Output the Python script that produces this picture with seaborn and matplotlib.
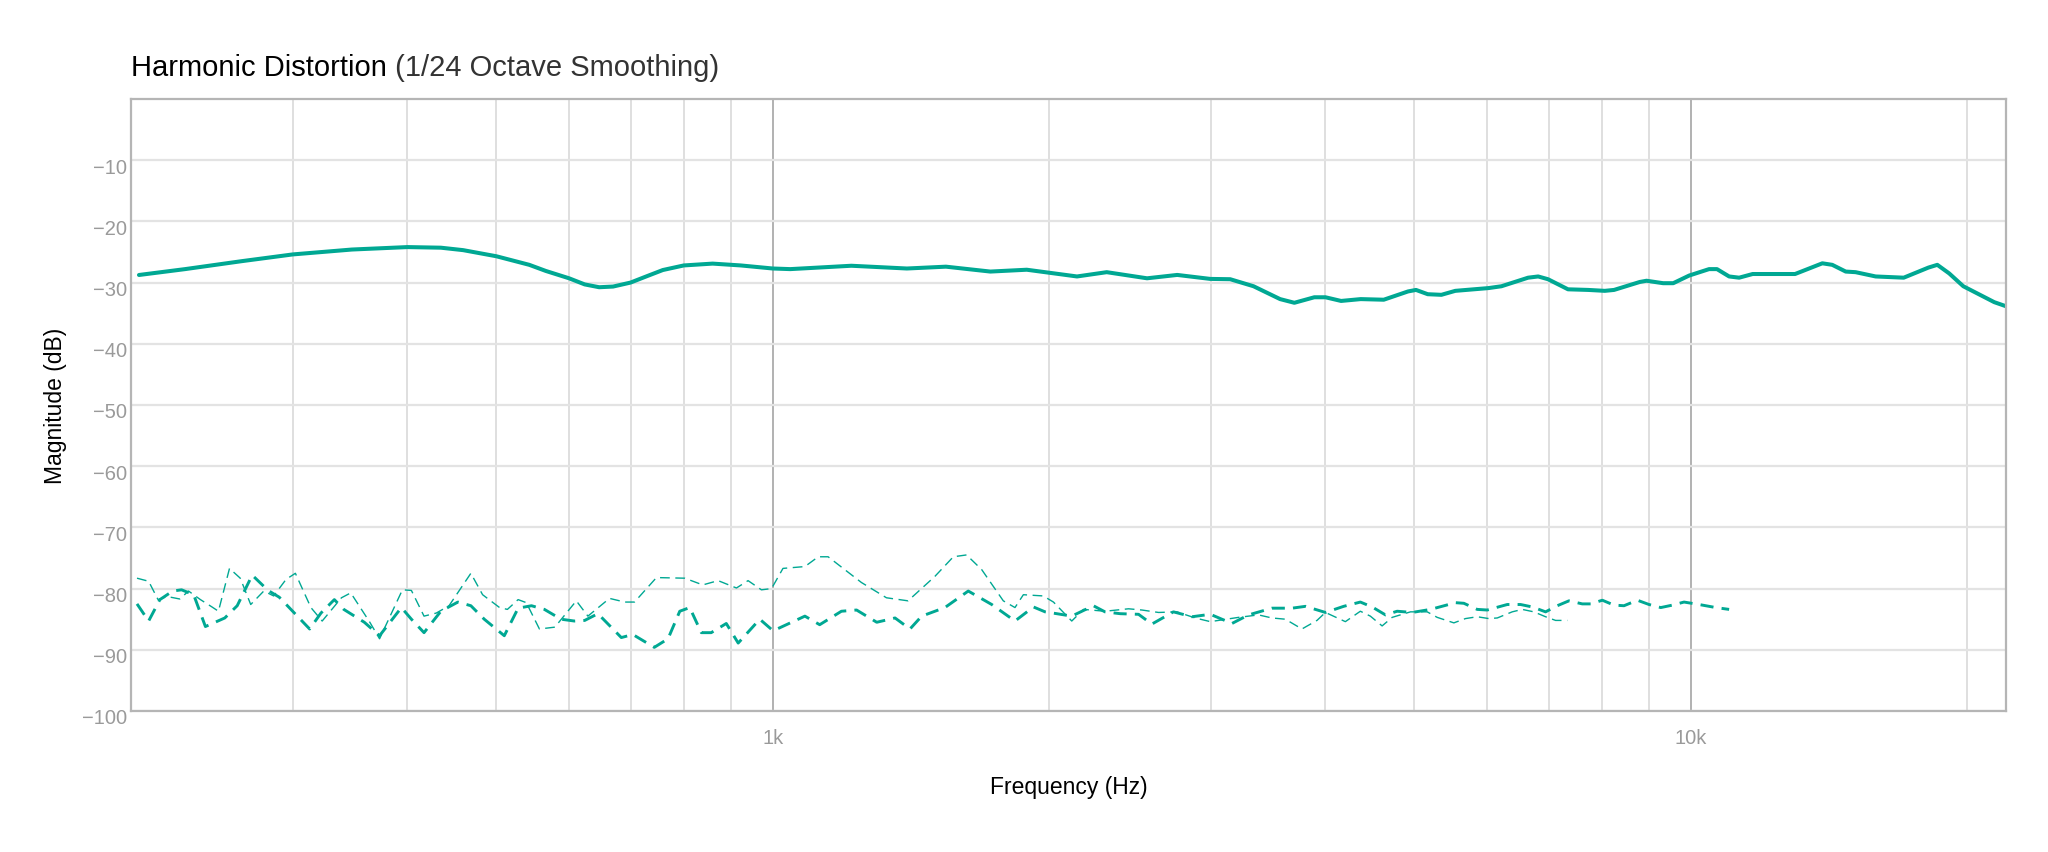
import numpy as np
import pandas as pd
import matplotlib
matplotlib.use('Agg')
import matplotlib.pyplot as plt
import matplotlib.transforms as mtransforms
from matplotlib.ticker import NullFormatter
import seaborn as sns

# fundamental (solid)
fund_freq = [204, 229, 264, 300, 348, 400, 435, 460, 500, 543, 566, 600, 624, 647, 670, 700,
             728, 759, 800, 860, 923, 1000, 1045, 1218, 1400, 1544, 1726,
             1891, 2145, 2311, 2557, 2758, 2996, 3150,
             3340, 3570, 3700, 3890, 4000, 4160, 4370, 4630, 4920, 5020, 5170, 5350, 5540,
             6020, 6220, 6650, 6820, 6990, 7350, 7730, 8060, 8250, 8800, 8950, 9330, 9570,
             9960, 10470, 10680, 11010, 11290, 11680, 12990, 13910, 14260, 14750, 15120,
             15900, 17060, 18150, 18560, 19120, 19810, 21410, 22080]
fund_db = [-28.76, -27.8, -26.5, -25.4, -24.6, -24.2, -24.3, -24.7, -25.7, -27.1, -28.1, -29.3, -30.3, -30.76, -30.65, -30.0,
           -29.0, -27.95, -27.2, -26.9, -27.2, -27.7, -27.8, -27.25, -27.7, -27.4, -28.2,
           -27.9, -29.0, -28.3, -29.3, -28.75, -29.4, -29.45,
           -30.6, -32.7, -33.3, -32.4, -32.4, -33.0, -32.7, -32.8, -31.45, -31.2, -31.9, -32.0, -31.35,
           -30.9, -30.6, -29.2, -29.0, -29.45, -31.1, -31.2, -31.35, -31.2, -29.9, -29.7, -30.1, -30.1,
           -28.85, -27.8, -27.8, -29.0, -29.2, -28.6, -28.6, -26.85, -27.1, -28.2, -28.3,
           -29.0, -29.2, -27.55, -27.1, -28.5, -30.6, -33.2, -33.9]

# second harmonic (thick dashes)
h2_freq = [203, 209, 215, 222, 227, 234, 241, 253, 261, 271, 282, 290, 313, 322, 333, 341,
           359, 373, 394, 404, 417, 435, 454, 469, 485, 510, 528, 546, 564, 588, 608,
           624, 645, 684, 704, 743, 769, 792, 812, 836, 857, 890, 917, 968, 1001, 1084,
           1125, 1188, 1234, 1298, 1359, 1411, 1453, 1540, 1633, 1732, 1836,
           1923, 1980, 2039, 2117, 2235, 2301, 2390, 2503, 2588, 2732, 2862, 2997, 3164,
           3298, 3498, 3678, 3804, 4000, 4187, 4366, 4497, 4650, 4788, 4972, 5206, 5543,
           5660, 5853, 6002, 6311, 6525, 6720, 6948, 7155, 7367, 7618, 7780, 8011, 8249,
           8458, 8747, 9006, 9275, 9550, 9833, 10210, 10650, 11010]
h2_db = [-82.5, -85.3, -81.8, -80.4, -80.2, -81.0, -86.2, -84.8, -82.8, -77.8, -80.3, -81.4, -86.6, -84.0, -81.8, -83.4,
         -85.5, -87.7, -83.1, -85.0, -87.2, -83.7, -82.2, -82.8, -85.0, -87.7, -83.2, -82.8, -83.4, -85.0, -85.3,
         -85.2, -84.1, -88.0, -87.5, -89.6, -88.2, -83.7, -83.1, -87.2, -87.2, -85.7, -88.9, -85.0, -86.9, -84.5,
         -85.9, -83.7, -83.5, -85.5, -84.8, -86.6, -84.5, -83.1, -80.4, -82.6, -85.3,
         -83.0, -83.8, -84.1, -84.5, -82.8, -83.8, -84.1, -84.2, -85.8, -83.8, -84.6, -84.2, -85.7,
         -84.3, -83.2, -83.2, -82.9, -83.9, -82.9, -82.2, -83.0, -84.3, -83.7, -83.9, -83.4, -82.3,
         -82.4, -83.4, -83.5, -82.6, -82.6, -83.0, -83.8, -82.8, -82.0, -82.5, -82.5, -81.9, -82.7,
         -82.8, -81.9, -82.6, -83.1, -82.7, -82.2, -82.6, -83.1, -83.4]

# third harmonic (thin dashes)
h3_freq = [203, 209, 214, 219, 226, 231, 238, 245, 249, 256, 263, 270, 279, 286, 295, 302,
           314, 323, 339, 347, 364, 373, 395, 404, 417, 430, 444, 469, 483, 504, 514, 528,
           539, 557, 579, 611, 629, 664, 690, 707, 747, 802, 839, 872, 913, 940, 972, 997,
           1026, 1084, 1121, 1149, 1249, 1330, 1404, 1502, 1573, 1626, 1689, 1783, 1836,
           1875, 1971, 2022, 2117, 2180, 2301, 2441, 2524, 2632, 2756, 2885, 2997, 3217,
           3382, 3498, 3617, 3771, 3916, 4000, 4205, 4366, 4477, 4611, 4729, 4951, 5163,
           5294, 5520, 5683, 5853, 6026, 6155, 6390, 6553, 6746, 6948, 7125, 7337]
h3_db = [-78.3, -78.8, -81.8, -81.3, -81.7, -80.4, -81.8, -83.0, -83.7, -76.7, -78.3, -82.6, -80.4, -81.2, -78.5, -77.5,
         -83.1, -85.3, -81.5, -80.7, -85.5, -88.2, -80.2, -80.3, -84.5, -84.0, -82.8, -77.5, -81.0, -83.1, -83.4, -81.8,
         -82.3, -86.6, -86.3, -82.0, -84.5, -81.6, -82.2, -82.2, -78.2, -78.3, -79.4, -78.7, -79.9, -78.7, -80.2, -80.0,
         -76.7, -76.4, -74.8, -74.8, -79.0, -81.5, -82.0, -78.0, -74.8, -74.5, -76.9, -82.0, -83.1,
         -81.0, -81.2, -82.2, -85.3, -83.4, -83.7, -83.3, -83.5, -83.9, -83.8, -84.8, -85.4, -84.7,
         -84.3, -84.8, -85.0, -86.6, -85.2, -83.9, -85.4, -83.7, -84.5, -86.1, -84.7, -83.8, -83.8,
         -84.7, -85.6, -84.9, -84.6, -84.9, -84.8, -83.8, -83.4, -83.8, -84.6, -85.2, -85.2]

y_ticks = [-100, -90, -80, -70, -60, -50, -40, -30, -20, -10]
x_major = [1000, 10000]
x_major_labels = ['1k', '10k']
x_minor = [200, 300, 400, 500, 600, 700, 800, 900,
           2000, 3000, 4000, 5000, 6000, 7000, 8000, 9000, 20000]

teal = '#00a893'

sns.set_theme(style='white')
plt.rcParams['font.family'] = ['Liberation Sans', 'DejaVu Sans']
plt.rcParams['axes.unicode_minus'] = True

fig = plt.figure(figsize=(20.48, 8.53), dpi=100)
ax = fig.add_axes([0.064, 0.1653, 0.9155, 0.7175])

fund = pd.DataFrame({'freq': fund_freq, 'db': fund_db})
h2 = pd.DataFrame({'freq': h2_freq, 'db': h2_db})
h3 = pd.DataFrame({'freq': h3_freq, 'db': h3_db})

sns.lineplot(data=fund, x='freq', y='db', color=teal, linewidth=2.9, ax=ax)
sns.lineplot(data=h2, x='freq', y='db', color=teal, linewidth=2.1,
             linestyle=(0, (4.5, 2.8)), ax=ax)
sns.lineplot(data=h3, x='freq', y='db', color=teal, linewidth=1.0,
             linestyle=(0, (7, 4)), ax=ax)

ax.set_xscale('log')
ax.set_xlim(200, 22050)
ax.set_ylim(-100, 0)
ax.set_xticks(x_major, labels=x_major_labels)
ax.set_xticks(x_minor, minor=True)
ax.xaxis.set_minor_formatter(NullFormatter())
ax.set_yticks(y_ticks)

ax.set_axisbelow(True)
ax.grid(which='major', axis='y', color='#e3e3e3', linewidth=1.6)
ax.grid(which='minor', axis='x', color='#dcdcdc', linewidth=1.3)
ax.grid(which='major', axis='x', color='#ababab', linewidth=1.3)

for s in ax.spines.values():
    s.set_color('#b5b5b5')
    s.set_linewidth(1.6)

ax.tick_params(axis='both', which='both', length=0, labelsize=14.5, labelcolor='#9a9a9a')
ax.tick_params(axis='x', pad=12)
ax.tick_params(axis='y', pad=3)
shift = mtransforms.ScaledTranslation(0, -5 / 100, fig.dpi_scale_trans)
for lab in ax.get_yticklabels():
    lab.set_transform(lab.get_transform() + shift)

ax.set_xlabel('Frequency (Hz)', fontsize=16.5, color='black')
ax.set_ylabel('Magnitude (dB)', fontsize=16.5, color='black')
ax.xaxis.set_label_coords(0.5, -0.124)
ax.xaxis.label.set_va('center')
ax.yaxis.set_label_coords(-0.0405, 0.5)
ax.yaxis.label.set_va('center')

t1 = fig.text(0.064, 0.920, 'Harmonic Distortion', fontsize=21, color='black',
              ha='left', va='center')
ax.annotate(' (1/24 Octave Smoothing)', xy=(1, 0), xycoords=t1, fontsize=21,
            color='#333333', ha='left', va='bottom')

fig.savefig('out.png', dpi=100)
